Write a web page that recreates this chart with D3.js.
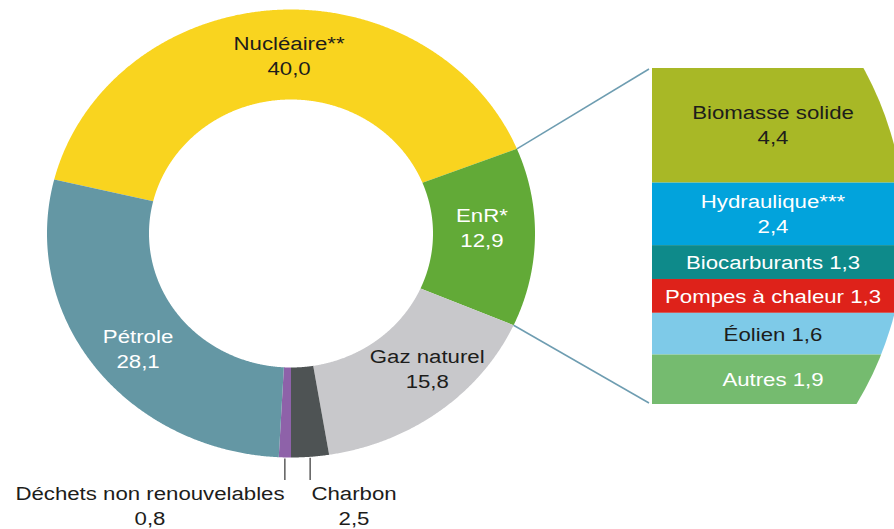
<!DOCTYPE html>
<html>
<head>
<meta charset="utf-8">
<script src="https://cdn.jsdelivr.net/npm/d3@7"></script>
<style>
html,body{margin:0;padding:0;background:#fff;}
svg{display:block;}
text{font-family:"Liberation Sans",Arial,Helvetica,sans-serif;}
</style>
</head>
<body>
<svg id="chart" width="894" height="529"></svg>
<script>
// ---- data ----
const categories = ["Nucléaire**", "EnR*", "Gaz naturel", "Charbon", "Déchets non renouvelables", "Pétrole"];
const values = [40.0, 12.9, 15.8, 2.5, 0.8, 28.1];
const valueLabels = ["40,0", "12,9", "15,8", "2,5", "0,8", "28,1"];
const enrCategories = ["Biomasse solide", "Hydraulique***", "Biocarburants", "Pompes à chaleur", "Éolien", "Autres"];
const enrValues = [4.4, 2.4, 1.3, 1.3, 1.6, 1.9];
const enrValueLabels = ["4,4", "2,4", "1,3", "1,3", "1,6", "1,9"];

// ---- styles ----
const colors = ["#F9D41F", "#62AA37", "#C8C8CB", "#4E5354", "#8E62A9", "#6497A4"];
const textColors = ["#1d1d1b", "#ffffff", "#1d1d1b", "#1d1d1b", "#1d1d1b", "#ffffff"];
const enrColors = ["#A8B826", "#02A3DC", "#0E8A8A", "#DE221A", "#7ECAE8", "#75BB6F"];
const enrTextColors = ["#1d1d1b", "#ffffff", "#ffffff", "#ffffff", "#1d1d1b", "#ffffff"];

const FS = 19, SX = 1.17;
const svg = d3.select("#chart");

// donut geometry (slightly elliptical, as in the reference)
const cx = 291, cy = 233.5;
const Rx = 244, Ry = 224, rx = 142, ry = 134;

const total = d3.sum(values);
const startA = Math.PI - 2 * Math.PI * d3.sum(values.slice(0, 4)) / total;
const pie = d3.pie().sort(null).value(d => d).startAngle(startA).endAngle(startA + 2 * Math.PI);
const arcs = pie(values);

const ell = (a, ax, ay) => [cx + ax * Math.sin(a), cy - ay * Math.cos(a)];
function ringPath(a0, a1) {
  const n = Math.max(4, Math.ceil((a1 - a0) / 0.005));
  const pts = [];
  for (let i = 0; i <= n; i++) pts.push(ell(a0 + (a1 - a0) * i / n, Rx, Ry));
  for (let i = n; i >= 0; i--) pts.push(ell(a0 + (a1 - a0) * i / n, rx, ry));
  return d3.line()(pts) + "Z";
}

svg.append("g").selectAll("path").data(arcs).join("path")
  .attr("d", d => ringPath(d.startAngle, d.endAngle))
  .attr("fill", (d, i) => colors[i]);

function label(x, y, lines, color, anchor) {
  const g = svg.append("g").attr("transform", `translate(${x},${y}) scale(${SX},1)`);
  lines.forEach((t, k) => {
    g.append("text").attr("x", 0).attr("y", k * 25)
      .attr("text-anchor", anchor || "middle")
      .attr("font-size", FS).attr("fill", color).text(t);
  });
}

// in-ring labels (centroid + nudges)
const nudges = {0: [12, 9], 1: [-2, -1], 2: [19, 1], 5: [2, 17]};
arcs.forEach((d, i) => {
  if (!(i in nudges)) return;
  const m = (d.startAngle + d.endAngle) / 2;
  const p = ell(m, (Rx + rx) / 2, (Ry + ry) / 2);
  label(p[0] + nudges[i][0], p[1] - 14 + nudges[i][1], [categories[i], valueLabels[i]], textColors[i]);
});

// leader lines for small slices
const leaders = [{i: 4, lx: 150}, {i: 3, lx: 354}];
leaders.forEach(({i, lx}) => {
  const d = arcs[i];
  const m = (d.startAngle + d.endAngle) / 2;
  const p = ell(m, Rx, Ry);
  svg.append("line").attr("x1", p[0]).attr("x2", p[0]).attr("y1", p[1] + 1).attr("y2", 480)
    .attr("stroke", "#333").attr("stroke-width", 1.2);
  label(lx, 500, [categories[i], valueLabels[i]], "#1d1d1b");
});

// ---- EnR detail panel ----
const enrTotal = d3.sum(enrValues);
const y = d3.scaleLinear().domain([0, enrTotal]).range([68, 404]);
const cum = d3.cumsum(enrValues);
const panelX = 652;

const defs = svg.append("defs");
defs.append("clipPath").attr("id", "panelClip")
  .append("circle").attr("cx", 568).attr("cy", 230).attr("r", 337);

const panel = svg.append("g").attr("clip-path", "url(#panelClip)");
panel.selectAll("rect").data(enrValues).join("rect")
  .attr("x", panelX).attr("width", 300)
  .attr("y", (d, i) => y(cum[i] - d))
  .attr("height", d => y(d) - y(0))
  .attr("fill", (d, i) => enrColors[i]);

// connector lines
const aTop = arcs[1].startAngle, aBot = arcs[1].endAngle;
const pTop = ell(aTop, Rx, Ry), pBot = ell(aBot, Rx, Ry);
svg.append("line").attr("x1", pTop[0]).attr("y1", pTop[1]).attr("x2", panelX - 3).attr("y2", y(0) + 1)
  .attr("stroke", "#6E9DB1").attr("stroke-width", 1.5);
svg.append("line").attr("x1", pBot[0]).attr("y1", pBot[1]).attr("x2", panelX - 3).attr("y2", y(enrTotal) - 1)
  .attr("stroke", "#6E9DB1").attr("stroke-width", 1.5);

const panelCx = 773;
enrValues.forEach((v, i) => {
  const yc = (y(cum[i] - v) + y(cum[i])) / 2;
  if (i < 2) {
    label(panelCx, yc - 6, [enrCategories[i], enrValueLabels[i]], enrTextColors[i]);
  } else {
    label(panelCx, yc + 7, [enrCategories[i] + " " + enrValueLabels[i]], enrTextColors[i]);
  }
});
</script>
</body>
</html>
